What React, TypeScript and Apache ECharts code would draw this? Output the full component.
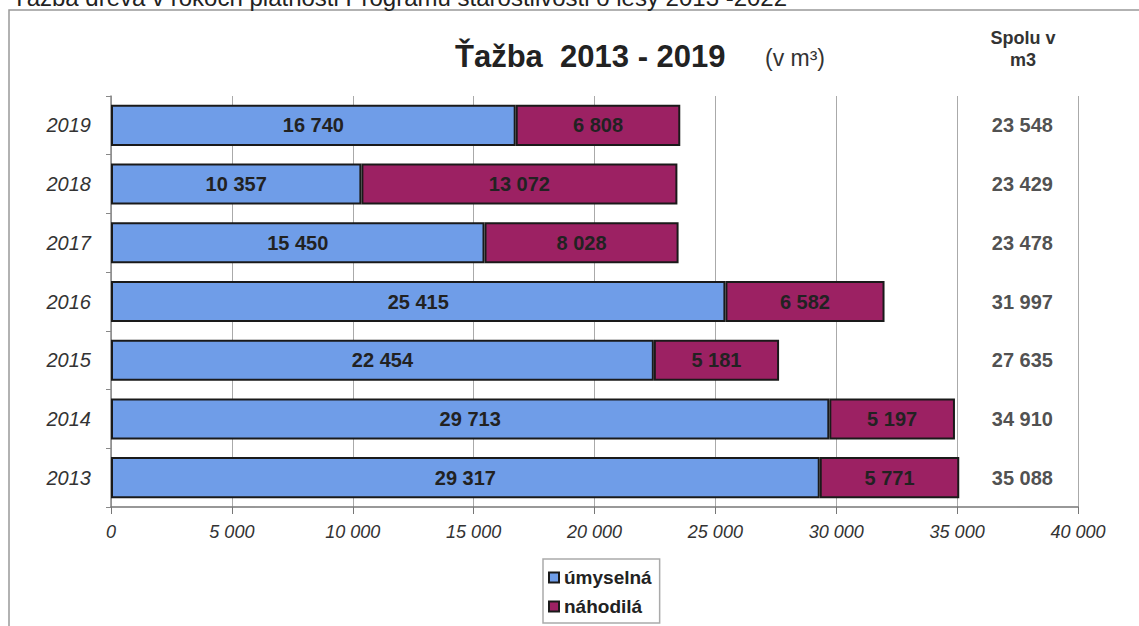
import React, { useEffect, useRef } from 'react';
import * as echarts from 'echarts';

const years = ['2013', '2014', '2015', '2016', '2017', '2018', '2019'];
const umyselna = [29317, 29713, 22454, 25415, 15450, 10357, 16740];
const nahodila = [5771, 5197, 5181, 6582, 8028, 13072, 6808];
const spolu = [35088, 34910, 27635, 31997, 23478, 23429, 23548];
const seriesNames = ['úmyselná', 'náhodilá'];
const totalsColumnX = 37700;

const fmt = (n: number) => String(n).replace(/\B(?=(\d{3})+(?!\d))/g, ' ');

const FONT = '"Liberation Sans", Arial, sans-serif';

export default function App() {
  const ref = useRef<HTMLDivElement>(null);
  useEffect(() => {
    document.body.style.margin = '0';
    const chart = echarts.init(ref.current!, null, { renderer: 'svg' });
    const barLabel = {
      show: true,
      position: 'inside',
      formatter: (p: any) => fmt(p.value),
      fontFamily: FONT,
      fontWeight: 'bold',
      fontSize: 20,
      color: '#222',
    };
    chart.setOption({
      animation: false,
      backgroundColor: '#fff',
      textStyle: { fontFamily: FONT },
      grid: { left: 111, right: 61, top: 96, bottom: 119, containLabel: false },
      legend: {
        data: seriesNames,
        orient: 'vertical',
        left: 543,
        top: 559,
        padding: [9, 8, 7, 5],
        itemGap: 10,
        itemWidth: 10,
        itemHeight: 10,
        borderColor: '#aaa',
        borderWidth: 1.5,
        icon: 'rect',
        textStyle: { fontFamily: FONT, fontWeight: 'bold', fontSize: 19, color: '#222' },
      },
      xAxis: {
        type: 'value',
        min: 0,
        max: 40000,
        interval: 5000,
        axisLine: { show: true, lineStyle: { color: '#777', width: 1.5 } },
        axisTick: { show: true, length: 7, lineStyle: { color: '#777' } },
        splitLine: { show: true, lineStyle: { color: '#aaa', width: 1 } },
        axisLabel: {
          formatter: (v: number) => fmt(v),
          fontFamily: FONT,
          fontStyle: 'italic',
          fontSize: 18,
          color: '#333',
          margin: 16,
        },
      },
      yAxis: {
        type: 'category',
        data: years,
        axisLine: { show: true, lineStyle: { color: '#888', width: 1.5 } },
        axisTick: { show: true, length: 5, lineStyle: { color: '#888' } },
        axisLabel: {
          fontFamily: FONT,
          fontStyle: 'italic',
          fontSize: 20,
          color: '#333',
          margin: 20,
        },
      },
      series: [
        {
          name: seriesNames[0],
          type: 'bar',
          stack: 'total',
          barCategoryGap: '30%',
          data: umyselna,
          itemStyle: { color: '#6f9de8', borderColor: '#1a1a1a', borderWidth: 2 },
          label: barLabel,
          emphasis: { disabled: true },
        },
        {
          name: seriesNames[1],
          type: 'bar',
          stack: 'total',
          barCategoryGap: '30%',
          data: nahodila,
          itemStyle: { color: '#9c2163', borderColor: '#1a1a1a', borderWidth: 2 },
          label: barLabel,
          emphasis: { disabled: true },
        },
        {
          name: 'Spolu',
          type: 'scatter',
          data: spolu.map((_, i) => [totalsColumnX, i]),
          symbolSize: 1,
          itemStyle: { color: 'rgba(0,0,0,0)' },
          silent: true,
          label: {
            show: true,
            position: 'inside',
            formatter: (p: any) => fmt(spolu[p.dataIndex]),
            fontFamily: FONT,
            fontWeight: 'bold',
            fontSize: 20,
            color: '#222',
          },
        },
      ],
      graphic: [
        {
          type: 'rect',
          shape: { x: 9, y: 10, width: 1140, height: 630 },
          style: { fill: 'none', stroke: '#999', lineWidth: 1.5 },
          silent: true,
        },
        {
          type: 'text',
          x: 12,
          y: 9,
          style: {
            text: 'Ťažba dreva v rokoch platnosti Programu starostlivosti o lesy 2013 -2022',
            font: `24px ${FONT}`,
            fill: '#222',
            textVerticalAlign: 'bottom',
          },
        },
        {
          type: 'text',
          x: 455,
          y: 56,
          style: {
            text: 'Ťažba  2013 - 2019',
            font: `bold 31px ${FONT}`,
            fill: '#222',
            textVerticalAlign: 'middle',
          },
        },
        {
          type: 'text',
          x: 765,
          y: 58,
          style: {
            text: '(v m³)',
            font: `23px ${FONT}`,
            fill: '#333',
            textVerticalAlign: 'middle',
          },
        },
        {
          type: 'text',
          x: 1023,
          y: 49,
          style: {
            text: 'Spolu v\nm3',
            font: `bold 18px ${FONT}`,
            fill: '#333',
            textAlign: 'center',
            textVerticalAlign: 'middle',
            lineHeight: 22,
          },
        },
      ],
    });
    return () => chart.dispose();
  }, []);
  return <div ref={ref} style={{ width: 1139, height: 626 }} />;
}
